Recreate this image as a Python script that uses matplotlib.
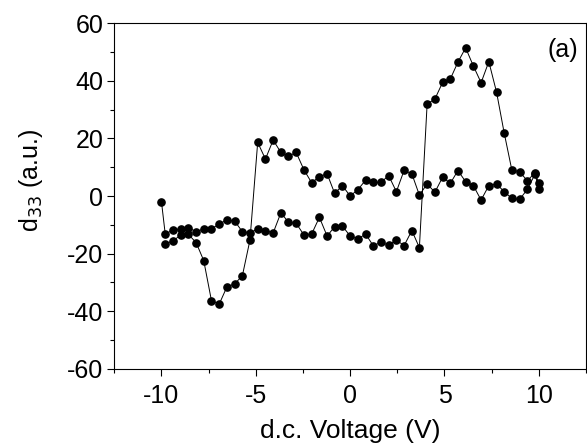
import matplotlib
matplotlib.use('Agg')
import matplotlib.pyplot as plt
from matplotlib.ticker import MultipleLocator

plt.rcParams['font.family'] = ['Liberation Sans', 'DejaVu Sans']
plt.rcParams['axes.unicode_minus'] = False

# Forward sweep (-10 V -> +10 V);
volts_up = [-10, -9.8, -9.39, -8.98, -8.57, -8.16, -7.76, -7.35, -6.94, -6.53,
            -6.12, -5.71, -5.31, -4.9, -4.49, -4.08, -3.67, -3.27, -2.86, -2.45,
            -2.04, -1.63, -1.22, -0.82, -0.41, 0, 0.41, 0.82, 1.22, 1.63,
            2.04, 2.45, 2.86, 3.27, 3.67, 4.08, 4.49, 4.9, 5.31, 5.71,
            6.12, 6.53, 6.94, 7.35, 7.76, 8.16, 8.57, 8.98, 9.39, 9.8, 10]
d33_up = [-2.0, -13.2, -11.8, -11.4, -11.0, -12.4, -11.4, -11.4, -9.7, -8.3,
          -8.7, -12.4, -12.7, -11.5, -12.0, -12.8, -5.8, -9.1, -9.5, -13.5,
          -13.2, -7.4, -13.9, -10.6, -10.4, -13.9, -14.9, -13.2, -17.2, -16.1,
          -17.0, -15.3, -17.2, -12.0, -17.9, 31.9, 33.6, 39.4, 40.6, 46.4,
          51.4, 45.1, 39.3, 46.6, 36.0, 22.0, 9.0, 8.4, 5.3, 8.1, 4.4]

# Reverse sweep (+10 V -> -10 V);
volts_down = [10, 9.8, 9.39, 8.98, 8.57, 8.16, 7.76, 7.35, 6.94, 6.53,
              6.12, 5.71, 5.31, 4.9, 4.49, 4.08, 3.67, 3.27, 2.86, 2.45,
              2.04, 1.63, 1.22, 0.82, 0.41, 0, -0.41, -0.82, -1.22, -1.63,
              -2.04, -2.45, -2.86, -3.27, -3.67, -4.08, -4.49, -4.9, -5.31, -5.71,
              -6.12, -6.53, -6.94, -7.35, -7.76, -8.16, -8.57, -8.98, -9.39, -9.8]
d33_down = [2.3, 7.6, 2.3, -1.2, -0.8, 1.5, 4.2, 3.6, -1.4, 3.6,
            5.0, 8.8, 4.4, 6.5, 1.3, 4.2, 0.3, 7.7, 8.9, 1.5,
            7.1, 4.7, 4.7, 5.5, 2.2, 0.0, 3.6, 0.9, 7.7, 6.7,
            4.6, 9.1, 15.1, 13.8, 15.1, 19.4, 12.8, 18.6, -15.3, -27.6,
            -30.5, -31.5, -37.5, -36.3, -22.4, -16.2, -13.3, -13.5, -15.6, -16.6]

volts = volts_up + volts_down
d33 = d33_up + d33_down

fig = plt.figure(figsize=(5.87, 4.45), dpi=100)
ax = fig.add_axes([0.1947, 0.1708, 0.8036, 0.7775])

ax.plot(volts, d33, color='black', linewidth=0.7, marker='o',
        markersize=5.2, markerfacecolor='black', markeredgecolor='black')

ax.set_xlim(-12.5, 12.5)
ax.set_ylim(-60, 60)
ax.set_xticks([-10, -5, 0, 5, 10])
ax.set_yticks([-60, -40, -20, 0, 20, 40, 60])
ax.xaxis.set_minor_locator(MultipleLocator(2.5))
ax.yaxis.set_minor_locator(MultipleLocator(10))
ax.tick_params(which='major', direction='out', length=5, width=0.8,
               labelsize=18, pad=3)
ax.tick_params(axis='x', which='major', pad=6)
ax.tick_params(which='minor', direction='out', length=3, width=0.8)
ax.tick_params(top=False, right=False, which='both')

ax.set_xlabel('d.c. Voltage (V)', fontsize=19, labelpad=8)
ax.set_ylabel('d$_{33}$ (a.u.)', fontsize=18)
ax.yaxis.set_label_coords(-0.147, 0.546)
ax.text(0.951, 0.922, '(a)', transform=ax.transAxes, fontsize=18,
        ha='center', va='center')

for spine in ax.spines.values():
    spine.set_linewidth(0.8)

fig.savefig('out.png', dpi=100)
